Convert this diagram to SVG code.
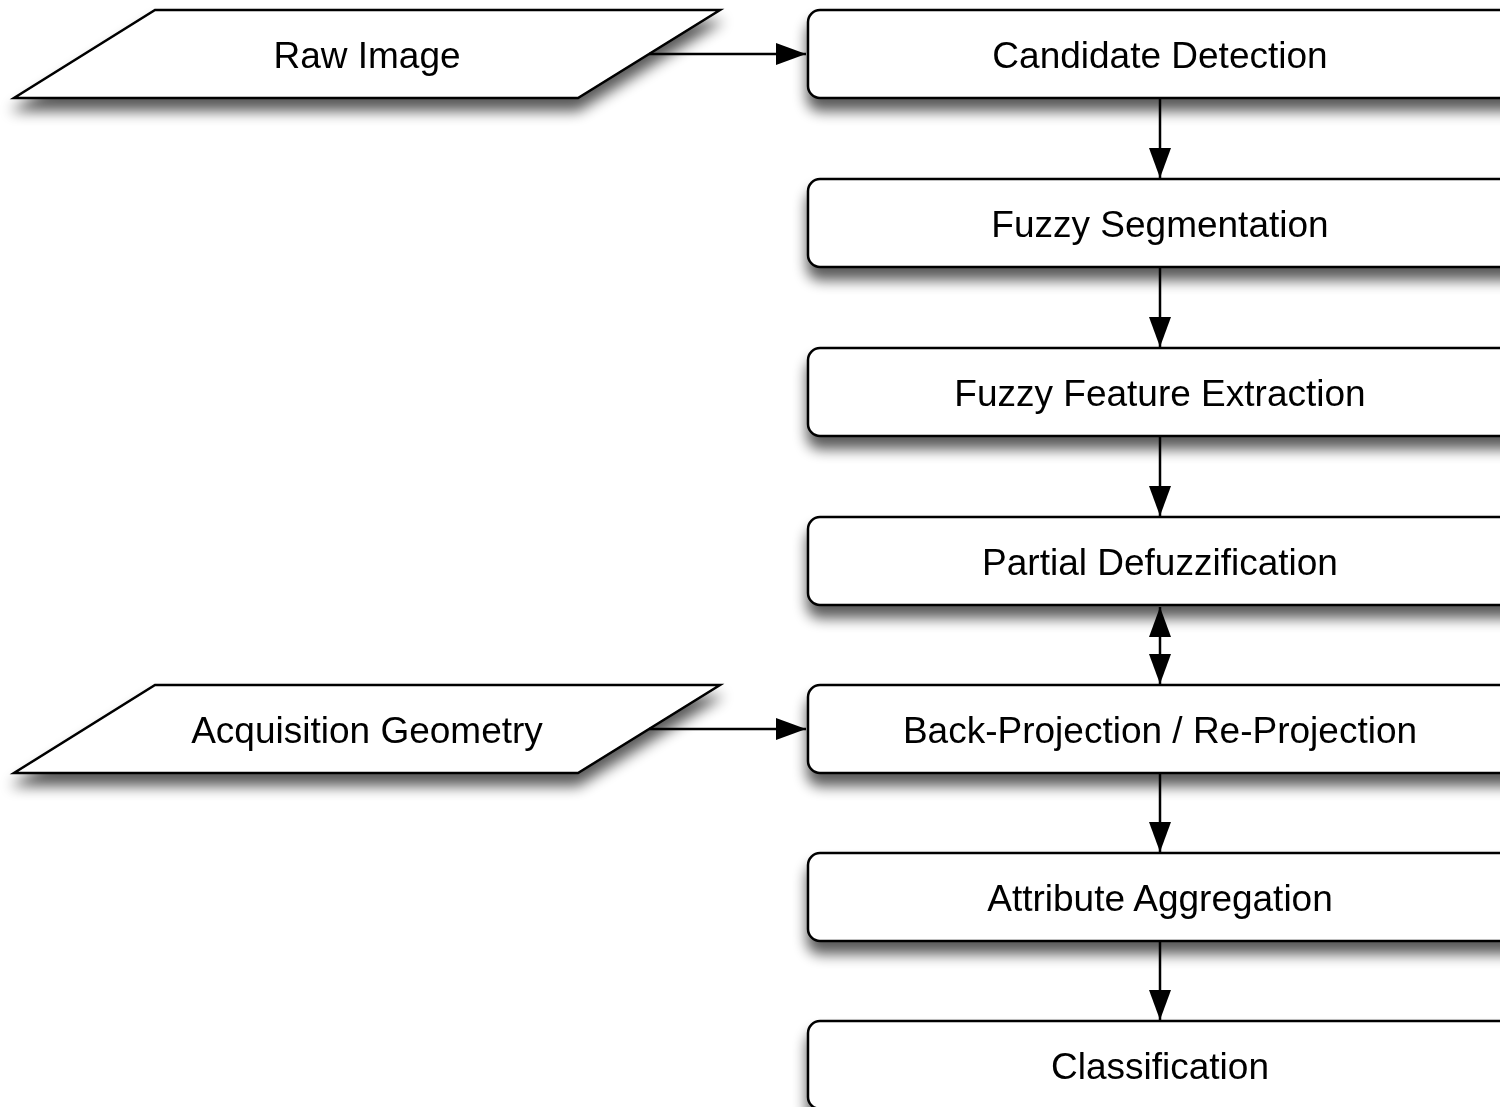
<svg xmlns="http://www.w3.org/2000/svg" width="1500" height="1107" viewBox="0 0 1500 1107">
<defs>
<filter id="sh" x="-10%" y="-30%" width="120%" height="180%">
<feGaussianBlur in="SourceAlpha" stdDeviation="7"/>
<feOffset dx="0" dy="12" result="b"/>
<feComponentTransfer><feFuncA type="linear" slope="0.65"/></feComponentTransfer>
<feMerge><feMergeNode/><feMergeNode in="SourceGraphic"/></feMerge>
</filter>
<marker id="ah" viewBox="0 0 30 22" refX="30" refY="11" markerWidth="30" markerHeight="22" markerUnits="userSpaceOnUse" orient="auto-start-reverse">
<path d="M0,0 L30,11 L0,22 Z" fill="#000"/>
</marker>
</defs>
<style>
.box{fill:#fff;stroke:#000;stroke-width:2.5}
.lbl{font-family:"Liberation Sans",Arial,sans-serif;font-size:37px;text-anchor:middle;fill:#000}
.c{stroke:#000;stroke-width:2.5;fill:none}
</style>
<g id="raw-image" filter="url(#sh)"><path class="box" d="M155,10 L720,10 L578,98 L14,98 Z"/><text class="lbl" x="367" y="68">Raw Image</text></g>
<g id="acq-geometry" filter="url(#sh)"><path class="box" d="M155,685 L720,685 L578,773 L14,773 Z"/><text class="lbl" x="367" y="743">Acquisition Geometry</text></g>
<g id="candidate-detection" filter="url(#sh)"><rect class="box" x="808" y="10" width="720" height="88" rx="12"/><text class="lbl" x="1160" y="68">Candidate Detection</text></g>
<g id="fuzzy-segmentation" filter="url(#sh)"><rect class="box" x="808" y="179" width="720" height="88" rx="12"/><text class="lbl" x="1160" y="237">Fuzzy Segmentation</text></g>
<g id="fuzzy-feature-extraction" filter="url(#sh)"><rect class="box" x="808" y="348" width="720" height="88" rx="12"/><text class="lbl" x="1160" y="406">Fuzzy Feature Extraction</text></g>
<g id="partial-defuzzification" filter="url(#sh)"><rect class="box" x="808" y="517" width="720" height="88" rx="12"/><text class="lbl" x="1160" y="575">Partial Defuzzification</text></g>
<g id="back-projection" filter="url(#sh)"><rect class="box" x="808" y="685" width="720" height="88" rx="12"/><text class="lbl" x="1160" y="743">Back-Projection / Re-Projection</text></g>
<g id="attribute-aggregation" filter="url(#sh)"><rect class="box" x="808" y="853" width="720" height="88" rx="12"/><text class="lbl" x="1160" y="911">Attribute Aggregation</text></g>
<g id="classification" filter="url(#sh)"><rect class="box" x="808" y="1021" width="720" height="88" rx="12"/><text class="lbl" x="1160" y="1079">Classification</text></g>
<g id="connectors">
<line class="c" x1="649" y1="54" x2="806" y2="54" marker-end="url(#ah)"/>
<line class="c" x1="649" y1="729" x2="806" y2="729" marker-end="url(#ah)"/>
<line class="c" x1="1160" y1="99" x2="1160" y2="178" marker-end="url(#ah)"/>
<line class="c" x1="1160" y1="268" x2="1160" y2="347" marker-end="url(#ah)"/>
<line class="c" x1="1160" y1="437" x2="1160" y2="516" marker-end="url(#ah)"/>
<line class="c" x1="1160" y1="607" x2="1160" y2="684" marker-start="url(#ah)" marker-end="url(#ah)"/>
<line class="c" x1="1160" y1="774" x2="1160" y2="852" marker-end="url(#ah)"/>
<line class="c" x1="1160" y1="942" x2="1160" y2="1020" marker-end="url(#ah)"/>
</g>
</svg>
